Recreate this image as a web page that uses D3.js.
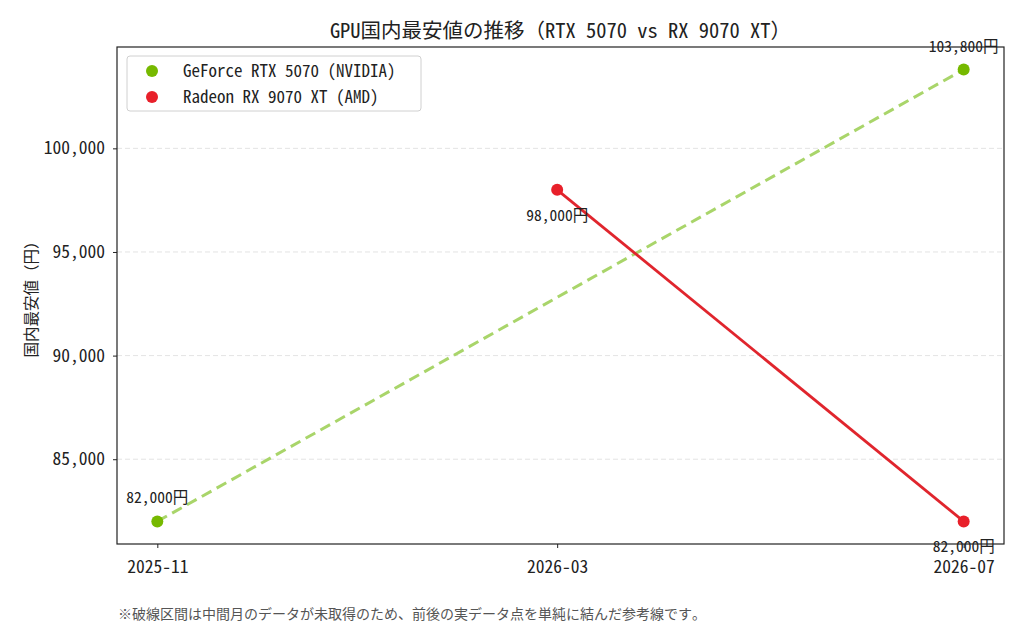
<!DOCTYPE html>
<html>
<head>
<meta charset="utf-8">
<script src="https://cdn.jsdelivr.net/npm/d3@7"></script>
<style>
  body { margin: 0; background: #fff; }
  svg { font-family: "Noto Sans Mono CJK JP", "Noto Sans CJK JP", "DejaVu Sans Mono", monospace; }
</style>
</head>
<body>
<div id="chart-area"></div>
<script>
// data
var months = ["2025-11", "2026-03", "2026-07"];
var nvidiaMonths = ["2025-11", "2026-07"];
var nvidiaPrices = [82000, 103800];
var amdMonths = ["2026-03", "2026-07"];
var amdPrices = [98000, 82000];
var yTicks = [85000, 90000, 95000, 100000];

var margin = { left:117, right:20, top:47, bottom:96 };
var width = 1024 - margin.left - margin.right,
    height = 640 - margin.top - margin.bottom;

var svg = d3.select("#chart-area")
    .append("svg")
        .attr("width", 1024)
        .attr("height", 640);

var g = svg.append("g")
    .attr("transform", "translate(" + margin.left + ", " + margin.top + ")");

var parse = d3.timeParse("%Y-%m");

// x: time with 5% padding like matplotlib
var tMin = parse(months[0]), tMax = parse(months[months.length - 1]);
var pad = (tMax - tMin) * 0.05;
var x = d3.scaleTime()
    .domain([new Date(+tMin - pad), new Date(+tMax + pad)])
    .range([0, width]);

var allPrices = nvidiaPrices.concat(amdPrices);
var yMin = d3.min(allPrices), yMax = d3.max(allPrices);
var yPad = (yMax - yMin) * 0.05;
var y = d3.scaleLinear()
    .domain([yMin - yPad, yMax + yPad])
    .range([height, 0]);

// grid
g.selectAll(".grid")
    .data(yTicks)
    .enter().append("line")
        .attr("x1", 0)
        .attr("x2", width)
        .attr("y1", function(d){ return y(d); })
        .attr("y2", function(d){ return y(d); })
        .attr("stroke", "#dcdcdc")
        .attr("stroke-width", 0.8)
        .attr("stroke-dasharray", "5,3");

// axes
var yAxisCall = d3.axisLeft(y)
    .tickValues(yTicks)
    .tickSize(4)
    .tickPadding(8)
    .tickFormat(d3.format(","));
var yAxis = g.append("g").call(yAxisCall)
    .attr("font-family", null)
    .attr("font-size", null);
yAxis.select(".domain").remove();
yAxis.selectAll("text")
    .attr("font-size", "17.5px")
    .attr("fill", "#222");
yAxis.selectAll("line").attr("stroke", "#222");

var xAxisCall = d3.axisBottom(x)
    .tickValues(months.map(parse))
    .tickSize(4)
    .tickFormat(d3.timeFormat("%Y-%m"));
var xAxis = g.append("g")
    .attr("transform", "translate(0, " + height + ")")
    .call(xAxisCall)
    .attr("font-family", null)
    .attr("font-size", null);
xAxis.select(".domain").remove();
xAxis.selectAll("text")
    .attr("font-size", "17.5px")
    .attr("fill", "#222")
    .attr("y", 29)
    .attr("dy", null);
xAxis.selectAll("line").attr("stroke", "#222");

// lines
var line = d3.line()
    .x(function(d){ return x(parse(d[0])); })
    .y(function(d){ return y(d[1]); });

var nvidiaData = d3.zip(nvidiaMonths, nvidiaPrices);
var amdData = d3.zip(amdMonths, amdPrices);

g.append("path")
    .datum(nvidiaData)
    .attr("d", line)
    .attr("fill", "none")
    .attr("stroke", "#a9d56a")
    .attr("stroke-width", 3)
    .attr("stroke-dasharray", "11,6");

g.append("path")
    .datum(amdData)
    .attr("d", line)
    .attr("fill", "none")
    .attr("stroke", "#e0252d")
    .attr("stroke-width", 2.8);

g.selectAll(".nv-dot")
    .data(nvidiaData)
    .enter().append("circle")
        .attr("cx", function(d){ return x(parse(d[0])); })
        .attr("cy", function(d){ return y(d[1]); })
        .attr("r", 6)
        .attr("fill", "#76b900");

g.selectAll(".amd-dot")
    .data(amdData)
    .enter().append("circle")
        .attr("cx", function(d){ return x(parse(d[0])); })
        .attr("cy", function(d){ return y(d[1]); })
        .attr("r", 6)
        .attr("fill", "#e8202a");

// value labels (nvidia above, amd below)
var fmt = d3.format(",");
g.selectAll(".nv-label")
    .data(nvidiaData)
    .enter().append("text")
        .attr("x", function(d){ return x(parse(d[0])); })
        .attr("y", function(d){ return y(d[1]) - 18; })
        .attr("text-anchor", "middle")
        .attr("font-size", "15.5px")
        .attr("fill", "#222")
        .text(function(d){ return fmt(d[1]) + "円"; });

g.selectAll(".amd-label")
    .data(amdData)
    .enter().append("text")
        .attr("x", function(d){ return x(parse(d[0])); })
        .attr("y", function(d){ return y(d[1]) + 31; })
        .attr("text-anchor", "middle")
        .attr("font-size", "15.5px")
        .attr("fill", "#222")
        .text(function(d){ return fmt(d[1]) + "円"; });

// frame
g.append("rect")
    .attr("width", width)
    .attr("height", height)
    .attr("fill", "none")
    .attr("stroke", "#222")
    .attr("stroke-width", 1.2);

// legend
var legend = g.append("g").attr("transform", "translate(10, 9)");
legend.append("rect")
    .attr("width", 294)
    .attr("height", 55)
    .attr("rx", 3)
    .attr("fill", "#fff")
    .attr("fill-opacity", 0.8)
    .attr("stroke", "#d0d0d0");
var legendItems = [
    { name: "GeForce RTX 5070 (NVIDIA)", color: "#76b900" },
    { name: "Radeon RX 9070 XT (AMD)", color: "#e8202a" }
];
legendItems.forEach(function(d, i){
    legend.append("circle")
        .attr("cx", 25)
        .attr("cy", 15 + i * 26)
        .attr("r", 6)
        .attr("fill", d.color);
    legend.append("text")
        .attr("x", 56)
        .attr("y", 15 + i * 26)
        .attr("dy", "0.35em")
        .attr("font-size", "17px")
        .attr("fill", "#222")
        .text(d.name);
});

// title
svg.append("text")
    .attr("x", margin.left + width / 2)
    .attr("y", 38)
    .attr("text-anchor", "middle")
    .attr("font-size", "20.5px")
    .attr("fill", "#222")
    .text("GPU国内最安値の推移（RTX 5070 vs RX 9070 XT）");

// Y label
svg.append("text")
    .attr("x", -(margin.top + height / 2))
    .attr("y", 37)
    .attr("text-anchor", "middle")
    .attr("font-size", "15.5px")
    .attr("fill", "#222")
    .attr("transform", "rotate(-90)")
    .text("国内最安値（円）");

// footnote
svg.append("text")
    .attr("x", 118)
    .attr("y", 619)
    .attr("font-size", "14px")
    .attr("fill", "#555")
    .text("※破線区間は中間月のデータが未取得のため、前後の実データ点を単純に結んだ参考線です。");
</script>
</body>
</html>
